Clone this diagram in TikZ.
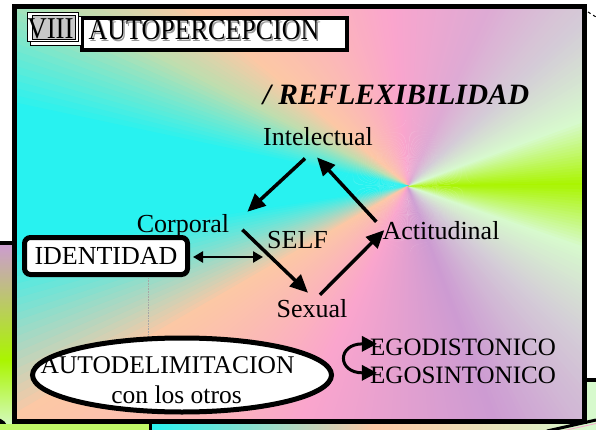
\documentclass[tikz,border=0pt]{standalone}
\usepackage{fontspec}
\setmainfont{Liberation Serif}
\usetikzlibrary{arrows.meta, shapes.geometric, positioning}

\definecolor{gLime}{RGB}{170,245,0}
\definecolor{gMint}{RGB}{215,250,205}
\definecolor{gGrey}{RGB}{212,205,215}
\definecolor{gLav}{RGB}{222,170,212}
\definecolor{gPink}{RGB}{250,165,205}
\definecolor{gPeach}{RGB}{252,200,165}
\definecolor{gSage}{RGB}{190,222,175}
\definecolor{gCyan}{RGB}{40,242,240}
\definecolor{gPurp}{RGB}{205,155,210}
\definecolor{gSilver}{RGB}{200,200,200}

\tikzset{
    word/.style={inner sep=0pt, anchor=base, font=\fontsize{26}{30}\selectfont},
    egoword/.style={inner sep=0pt, anchor=base, font=\fontsize{25}{29}\selectfont},
    selfarrow/.style={line width=3.5pt, -{Triangle[length=18pt,width=16pt]}},
    idarrow/.style={line width=2.5pt, {Triangle[length=10pt,width=11pt]}-{Triangle[length=10pt,width=11pt]}},
    egoarrow/.style={line width=3pt, {Triangle[length=15pt,width=15pt]}-{Triangle[length=15pt,width=15pt]}},
    idbox/.style={draw, line width=5pt, fill=white, rounded corners=6pt, inner sep=0pt,
        minimum width=163pt, minimum height=37pt, font=\fontsize{26}{30}\selectfont},
    autobox/.style={draw, ellipse, line width=5pt, fill=white, inner sep=0pt,
        minimum width=299pt, minimum height=74pt},
    titlebox/.style={draw, line width=4.5pt, fill=white, inner sep=0pt,
        minimum width=265pt, minimum height=32pt},
}

\begin{document}
\begin{tikzpicture}[x=1pt, y=-1pt]
    \useasboundingbox (0,0) rectangle (596,430);
    \fill[white] (0,0) rectangle (596,430);
    % pieces of the next slides
    \shade[top color=gPurp, bottom color=gLime] (0,243) rectangle (12,360);
    \shade[top color=gLime, bottom color=gMint] (0,360) rectangle (12,430);
    \draw[line width=4pt] (0,243) -- (14,243);
    \fill (-4,430) circle (12);
    \fill[gLime!50!gMint] (0,424) rectangle (150,430);
    \shade[left color=gCyan, right color=gMint, middle color=gPeach] (151,424) rectangle (596,430);
    \draw[line width=3pt] (150,421) -- (150,430);
    \fill[gMint] (587,380) rectangle (596,430);
    \draw[line width=3.5pt] (584,380) -- (596,380);
    \draw[line width=3pt] (547,431) -- (596,420);
    \draw[gPink, line width=0.8pt] (562,431) -- (596,423.5);
    \draw[dashed, line width=1pt] (588,12) -- (596,17);
    % conical background
    \coordinate (ctr) at (408,186);
    \begin{scope}
    \clip (14.5,7) rectangle (584.5,421);
    \foreach \a/\b/\ca/\cb in {0/20/gLime/gMint, 20/42/gMint/gGrey, 42/65/gGrey/gLav,
        65/95/gLav/gPink, 95/140/gPink/gPeach, 140/152/gPeach/gSage, 152/168/gSage/gCyan,
        168/188/gCyan/gCyan, 188/210/gCyan/gPeach, 210/245/gPeach/gPink, 245/290/gPink/gPurp,
        290/318/gPurp/gGrey, 318/340/gGrey/gMint, 340/360/gMint/gLime}{
        \pgfmathtruncatemacro\bb{\b-1}
        \foreach \t in {\a,...,\bb}{
            \pgfmathtruncatemacro\p{100*(\t-\a)/(\b-\a)}
            \fill[\cb!\p!\ca] (ctr) -- +(-\t:800) -- +(-\t-1.4:800) -- cycle;
        }
    }
    \end{scope}
    \draw[gray!70, densely dotted, line width=0.6pt] (148,278) -- (148,336);
    \draw[line width=5pt] (14.5,7) rectangle (584.5,421.5);

    % title
    \node[titlebox] (ttlbox) at (214.5,34) {};
    \node[word, gray!80] (ttlshadow) at (205.5,41.5) {\scalebox{1}[1.15]{AUTOPERCEPCION}};
    \node[word] (ttl) at (204,40) {\scalebox{1}[1.15]{AUTOPERCEPCION}};
    \draw[fill=white, line width=0.6pt] (30,16) rectangle (81,45);
    \draw[fill=white, line width=0.6pt] (27,12) rectangle (78,41);
    \draw[fill=gSilver, line width=0.6pt] (32,15) rectangle (75,39);
    \node[word, font=\fontsize{27}{30}\selectfont] (num) at (50.5,39) {\scalebox{1}[1.12]{VIII}};
    \node[word, font=\fontsize{29.5}{32}\selectfont\bfseries\itshape] (refl) at (396,105) {/ REFLEXIBILIDAD};

    % the self
    \node[word] (intel) at (318,146) {Intelectual};
    \node[word] (corp) at (183,233) {Corporal};
    \node[word] (self) at (297.5,248) {SELF};
    \node[word] (act) at (441,240) {Actitudinal};
    \node[word] (sex) at (312,317) {Sexual};
    \draw[selfarrow] ([shift={(-13,12)}]intel.south) -- ([shift={(18,-3)}]corp.north east);
    \draw[selfarrow] ([shift={(13,3)}]corp.east) -- ([shift={(-4,-6)}]sex.north);
    \draw[selfarrow] ([shift={(8,-4)}]sex.north) -- ([shift={(2,-1)}]act.west);
    \draw[selfarrow] ([shift={(-6,0)}]act.north west) -- ([shift={(-1,11)}]intel.south);

    \node[idbox] (iden) at (106,256) {IDENTIDAD};
    \coordinate (idend) at (263,257);
    \draw[idarrow] ([shift={(3,1)}]iden.east) -- (idend);

    \node[autobox] (autod) at (182,375) {};
    \node[word, font=\fontsize{25.5}{29}\selectfont] (autot) at (167.5,373) {AUTODELIMITACION};
    \node[word, font=\fontsize{25.5}{29}\selectfont] (otros) at (176.5,403) {con los otros};

    \node[egoword] (ego1) at (463,355) {EGODISTONICO};
    \node[egoword] (ego2) at (463,383) {EGOSINTONICO};
    \draw[egoarrow] ([shift={(7,-3)}]ego1.west) .. controls +(-40,0) and +(-40,0) .. ([shift={(7,-2)}]ego2.west);
\end{tikzpicture}
\end{document}
